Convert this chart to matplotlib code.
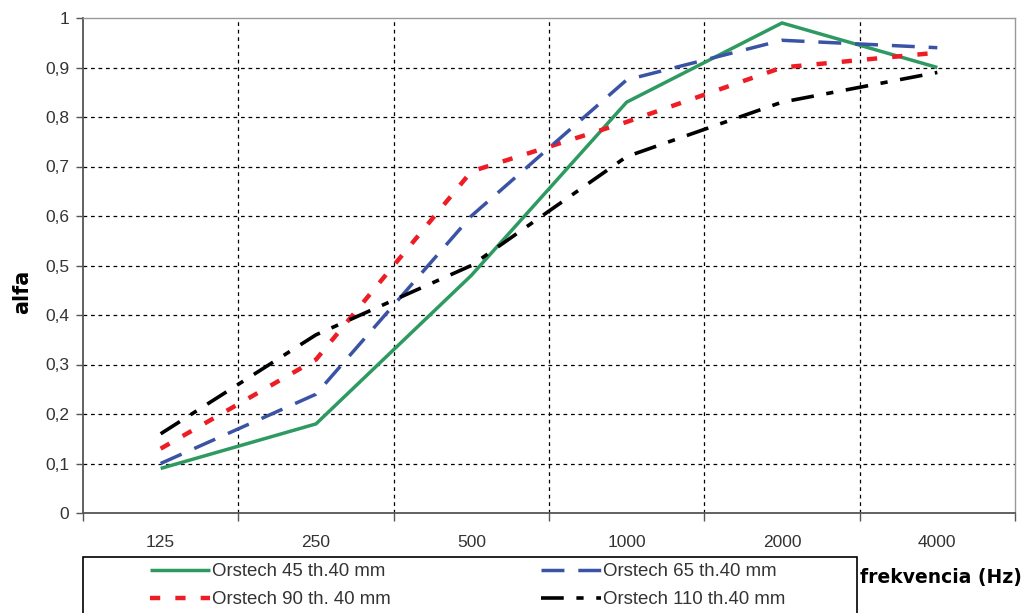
import numpy as np
import matplotlib
matplotlib.use("Agg")
import matplotlib.pyplot as plt
from matplotlib.patches import Rectangle

# data
freqs = ["125", "250", "500", "1000", "2000", "4000"]
orstech_45 = [0.09, 0.18, 0.48, 0.83, 0.99, 0.90]
orstech_65 = [0.10, 0.24, 0.60, 0.875, 0.955, 0.94]
orstech_90 = [0.13, 0.31, 0.69, 0.79, 0.90, 0.93]
orstech_110 = [0.16, 0.36, 0.50, 0.72, 0.83, 0.89]
y_ticks = [0, 0.1, 0.2, 0.3, 0.4, 0.5, 0.6, 0.7, 0.8, 0.9, 1.0]

W, H = 1029, 613
fig = plt.figure(figsize=(W / 100, H / 100), dpi=100)
ax = fig.add_axes([83 / W, 1 - 513 / H, (1015 - 83) / W, (513 - 18) / H])

x = np.arange(len(freqs))
lines = []
lines += ax.plot(x, orstech_45, color="#2e9a62", lw=2.5, solid_capstyle="butt",
                 label="Orstech 45 th.40 mm")
lines += ax.plot(x, orstech_90, color="#ee1c25", lw=3.2, dashes=(2.3, 3.4),
                 dash_capstyle="butt", label="Orstech 90 th. 40 mm")
lines += ax.plot(x, orstech_65, color="#3a53a4", lw=2.5, dashes=(6.6, 4.0),
                 dash_capstyle="butt", label="Orstech 65 th.40 mm")
lines += ax.plot(x, orstech_110, color="black", lw=2.6, dashes=(6.3, 3.5, 2.0, 3.5),
                 dash_capstyle="butt", label="Orstech 110 th.40 mm")

ax.set_xlim(-0.5, len(freqs) - 0.5)
ax.set_ylim(0, 1)

# y axis
ax.set_yticks(y_ticks)
ax.set_yticklabels([("%g" % v).replace(".", ",") for v in y_ticks],
                   fontsize=12.5, family="Liberation Sans", color="#333333")
ax.tick_params(axis="y", direction="out", length=5, width=1, color="#555555", pad=5)

# x axis: ticks at category borders, labels at centres
ax.set_xticks(np.arange(-0.5, len(freqs)), minor=False)
ax.set_xticklabels([])
ax.set_xticks(x, minor=True)
ax.set_xticklabels(freqs, minor=True, fontsize=12.5, family="Liberation Sans",
                   color="#333333")
ax.tick_params(axis="x", which="major", direction="out", length=6, width=1,
               color="#555555")
ax.tick_params(axis="x", which="minor", length=0, pad=16)

# grid
for v in y_ticks[1:-1]:
    ax.axhline(v, color="black", lw=0.9, dashes=(3, 3), zorder=0)
for b in np.arange(0.5, len(freqs) - 1):
    ax.axvline(b, color="black", lw=0.9, dashes=(3, 3), zorder=0)

for s in ["left", "bottom"]:
    ax.spines[s].set_color("#555555")
    ax.spines[s].set_linewidth(1.3)
for s in ["top", "right"]:
    ax.spines[s].set_color("#999999")
    ax.spines[s].set_linewidth(1.0)

fig.text(22 / W, 1 - 292 / H, "alfa", rotation=90, ha="center", va="center",
         fontsize=15, fontweight="bold", family="DejaVu Sans")
fig.text(1022 / W, 1 - 577 / H, "frekvencia (Hz)", ha="right", va="center",
         fontsize=13.5, fontweight="bold", family="DejaVu Sans")

# legend box
fig.patches.append(Rectangle((83 / W, -0.05), (857 - 83) / W, (1 - 557 / H) + 0.05,
                             transform=fig.transFigure, fill=False,
                             edgecolor="black", lw=1.2))
leg = fig.legend(handles=lines, ncol=2, loc="upper left",
                 bbox_to_anchor=(150 / W, 1 - 563 / H), frameon=False,
                 prop={"family": "Liberation Sans", "size": 13.4},
                 handlelength=3.2, handletextpad=0.12, columnspacing=8.1,
                 labelspacing=0.6, borderpad=0, borderaxespad=0)
for t in leg.get_texts():
    t.set_color("#333333")

fig.savefig("out.png", dpi=100)
